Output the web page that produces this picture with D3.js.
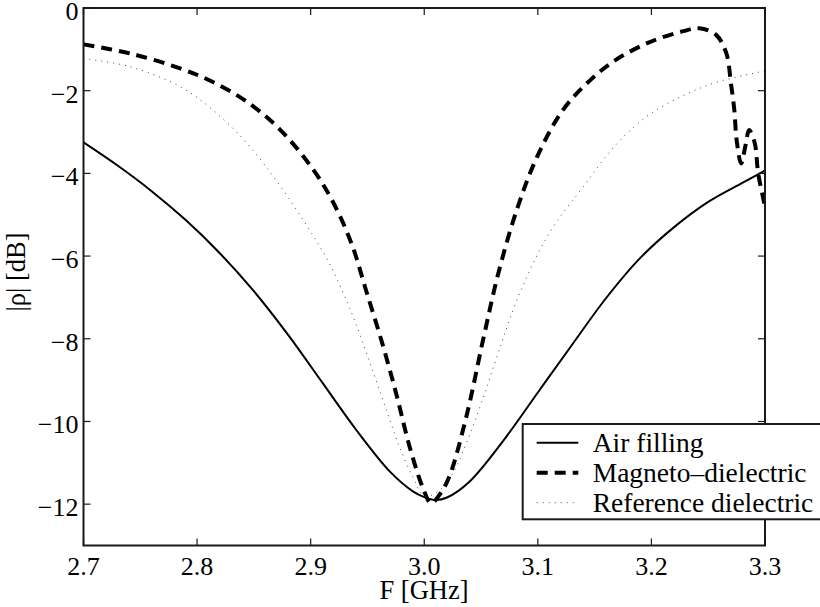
<!DOCTYPE html>
<html>
<head>
<meta charset="utf-8">
<script src="https://cdn.jsdelivr.net/npm/d3@7"></script>
<style>
  body { margin: 0; background: #fff; }
  text { font-family: "Liberation Serif", "Times New Roman", serif; fill: #000; }
</style>
</head>
<body>
<script>
// frequencies [GHz] and |rho| [dB]
const airFreq = [2.70, 2.73, 2.76, 2.79, 2.82, 2.85, 2.88, 2.91, 2.94, 2.97, 2.99, 3.00, 3.01, 3.02, 3.04, 3.07, 3.10, 3.13, 3.16, 3.19, 3.22, 3.25, 3.28, 3.30]
const airDb   = [-3.25, -3.81, -4.43, -5.13, -5.93, -6.85, -7.90, -9.05, -10.2, -11.22, -11.69, -11.83, -11.9, -11.84, -11.45, -10.45, -9.3, -8.15, -7.02, -6.05, -5.3, -4.69, -4.23, -3.93]

const magFreq = [2.700, 2.741, 2.785, 2.814, 2.844, 2.873, 2.902, 2.920, 2.936, 2.949, 2.964, 2.976, 2.987, 2.999, 3.006, 3.014, 3.022, 3.037, 3.052, 3.065, 3.081, 3.099, 3.122, 3.146, 3.169, 3.198, 3.228, 3.242, 3.257, 3.266, 3.270, 3.273, 3.275, 3.279, 3.283, 3.286, 3.291, 3.294, 3.300]
const magDb   = [-0.88, -1.10, -1.46, -1.79, -2.27, -2.94, -3.90, -4.71, -5.70, -6.85, -8.2, -9.4, -10.6, -11.62, -11.98, -11.75, -11.34, -9.89, -8.0, -6.44, -4.92, -3.62, -2.47, -1.75, -1.25, -0.83, -0.56, -0.49, -0.65, -1.10, -1.82, -2.47, -3.19, -3.76, -3.3, -2.95, -3.27, -4.0, -4.8]

const refFreq = [2.700, 2.741, 2.785, 2.814, 2.844, 2.873, 2.902, 2.915, 2.928, 2.940, 2.955, 2.967, 2.978, 2.990, 3.000, 3.012, 3.025, 3.037, 3.052, 3.066, 3.084, 3.110, 3.140, 3.169, 3.198, 3.228, 3.257, 3.300]
const refDb   = [-1.22, -1.42, -1.90, -2.47, -3.27, -4.30, -5.50, -6.10, -6.85, -7.65, -8.80, -9.75, -10.6, -11.35, -11.8, -11.7, -11.26, -10.53, -9.42, -8.27, -6.90, -5.45, -4.32, -3.30, -2.58, -2.12, -1.80, -1.52]

const xTicks = [2.7, 2.8, 2.9, 3.0, 3.1, 3.2, 3.3]
const yTicks = [0, -2, -4, -6, -8, -10, -12]

const seriesNames = ['Air filling', 'Magneto\u2013dielectric', 'Reference dielectric']

const W = 820, H = 607
const margin = {top: 8, right: 55, bottom: 61.5, left: 83.5}
const width = W - margin.left - margin.right
const height = H - margin.top - margin.bottom

const x = d3.scaleLinear().domain([2.7, 3.3]).range([0, width])
const y = d3.scaleLinear().domain([-13, 0]).range([height, 0])

const styles = [
  {stroke: '#000', width: 2, dash: null},
  {stroke: '#000', width: 4, dash: '11,7'},
  {stroke: '#444', width: 1, dash: '1,5'}
]

const series = [
  airFreq.map((f, i) => [f, airDb[i]]),
  magFreq.map((f, i) => [f, magDb[i]]),
  refFreq.map((f, i) => [f, refDb[i]])
]

const svg = d3.select('body').append('svg')
    .attr('width', W)
    .attr('height', H)
svg.append('rect').attr('width', W).attr('height', H).attr('fill', '#fff')

const g = svg.append('g')
    .attr('transform', 'translate(' + margin.left + ',' + margin.top + ')')

g.append('clipPath').attr('id', 'clip')
  .append('rect').attr('width', width).attr('height', height)

const line = d3.line()
    .x(d => x(d[0]))
    .y(d => y(d[1]))
    .curve(d3.curveCatmullRom.alpha(0.5))

g.append('g').attr('clip-path', 'url(#clip)')
  .selectAll('path')
  .data(series)
  .enter().append('path')
    .attr('d', line)
    .attr('fill', 'none')
    .attr('stroke', (d, i) => styles[i].stroke)
    .attr('stroke-width', (d, i) => styles[i].width)
    .attr('stroke-dasharray', (d, i) => styles[i].dash)

// box + inward ticks on all sides
const tickLen = 7
const axisColor = '#1a1a1a'
g.append('rect')
    .attr('width', width).attr('height', height)
    .attr('fill', 'none').attr('stroke', axisColor).attr('stroke-width', 2)

xTicks.forEach(t => {
  g.append('line').attr('x1', x(t)).attr('x2', x(t)).attr('y1', height).attr('y2', height - tickLen)
    .attr('stroke', axisColor).attr('stroke-width', 1.2)
  g.append('line').attr('x1', x(t)).attr('x2', x(t)).attr('y1', 0).attr('y2', tickLen)
    .attr('stroke', axisColor).attr('stroke-width', 1.2)
  g.append('text')
    .attr('x', x(t)).attr('y', height + 29.5)
    .attr('text-anchor', 'middle')
    .style('font-size', '26px')
    .text(d3.format('.1f')(t))
})

yTicks.forEach(t => {
  g.append('line').attr('x1', 0).attr('x2', tickLen).attr('y1', y(t)).attr('y2', y(t))
    .attr('stroke', axisColor).attr('stroke-width', 1.2)
  g.append('line').attr('x1', width).attr('x2', width - tickLen).attr('y1', y(t)).attr('y2', y(t))
    .attr('stroke', axisColor).attr('stroke-width', 1.2)
  g.append('text')
    .attr('x', -5).attr('y', y(t) + 12)
    .attr('text-anchor', 'end')
    .style('font-size', '26px')
    .text(t === 0 ? '0' : '\u2212' + Math.abs(t))
})

// axis labels
svg.append('text')
    .attr('x', 424).attr('y', 599)
    .attr('text-anchor', 'middle')
    .style('font-size', '26.5px')
    .text('F [GHz]')
svg.append('text')
    .attr('transform', 'translate(25,272) rotate(-90)')
    .attr('text-anchor', 'middle')
    .style('font-size', '26.5px')
    .text('|\u03c1| [dB]')

// legend
const legend = svg.append('g').attr('class', 'legend')
legend.append('rect')
    .attr('x', 522.7).attr('y', 424)
    .attr('width', 320).attr('height', 95.3)
    .attr('fill', '#fff').attr('stroke', axisColor).attr('stroke-width', 2)

const rows = legend.selectAll('.row')
    .data(seriesNames)
    .enter().append('g')
    .attr('transform', (d, i) => 'translate(0,' + (442.7 + 30 * i) + ')')
rows.append('line')
    .attr('x1', 536.7).attr('x2', 578.3)
    .attr('stroke', (d, i) => styles[i].stroke)
    .attr('stroke-width', (d, i) => styles[i].width)
    .attr('stroke-dasharray', (d, i) => styles[i].dash)
rows.append('text')
    .attr('x', 592.7).attr('y', 9.5)
    .style('font-size', '27.5px')
    .text(d => d)
</script>
</body>
</html>
